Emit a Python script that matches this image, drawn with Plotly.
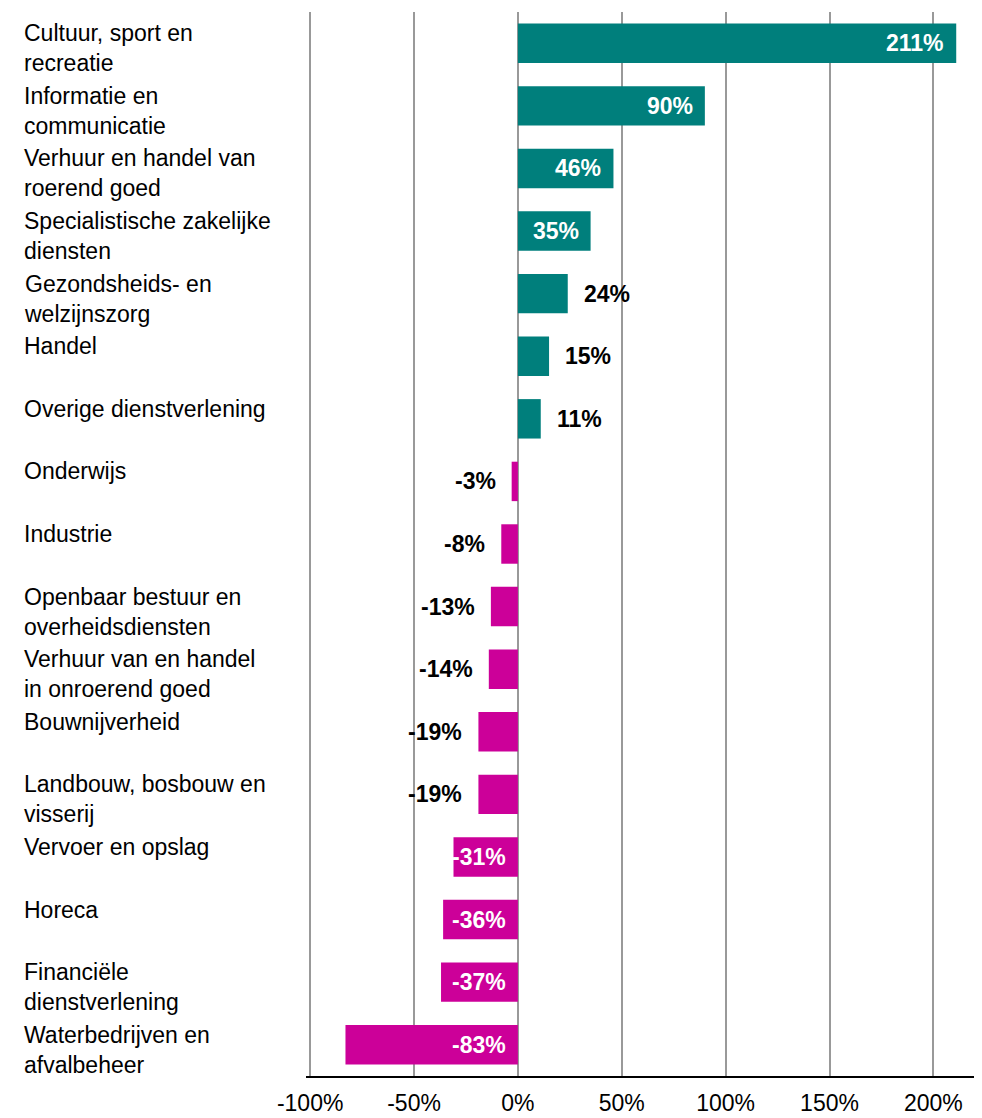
import plotly.graph_objs as go

# Sectors and change in percent
sectors = [
    "Cultuur, sport en<br>recreatie",
    "Informatie en<br>communicatie",
    "Verhuur en handel van<br>roerend goed",
    "Specialistische zakelijke<br>diensten",
    "Gezondsheids- en<br>welzijnszorg",
    "Handel",
    "Overige dienstverlening",
    "Onderwijs",
    "Industrie",
    "Openbaar bestuur en<br>overheidsdiensten",
    "Verhuur van en handel<br>in onroerend goed",
    "Bouwnijverheid",
    "Landbouw, bosbouw en<br>visserij",
    "Vervoer en opslag",
    "Horeca",
    "Financiële<br>dienstverlening",
    "Waterbedrijven en<br>afvalbeheer",
]
change = [211, 90, 46, 35, 24, 15, 11, -3, -8, -13, -14, -19, -19, -31, -36, -37, -83]
label_inside = [True, True, True, True, False, False, False, False, False,
                False, False, False, False, True, True, True, True]

tick_vals = [-100, -50, 0, 50, 100, 150, 200]
tick_text = ["-100%", "-50%", "0%", "50%", "100%", "150%", "200%"]

TEAL = "#007F7C"
MAGENTA = "#CC0099"
FONT = "Liberation Sans, Arial, Helvetica, sans-serif"

rows = list(range(len(sectors)))
colors = [TEAL if v >= 0 else MAGENTA for v in change]

fig = go.Figure(go.Bar(
    x=change,
    y=rows,
    orientation="h",
    width=0.63,
    marker=dict(color=colors, line=dict(width=0)),
    hoverinfo="skip",
))

# page body has an 8px margin, so the figure is shifted by that amount
W, H = 974, 1110
plot_left, plot_w = 298, 671

# category labels on the left, aligned to the top of each row
for i, name in enumerate(sectors):
    fig.add_annotation(
        x=(14 - plot_left) / plot_w, xref="paper", xanchor="left",
        y=i, yref="y", yanchor="top", yshift=25,
        text=name, showarrow=False, align="left",
        font=dict(family=FONT, size=23, color="#000000"),
    )

# value labels
for i, (v, inside) in enumerate(zip(change, label_inside)):
    if v >= 0:
        if inside:
            pos, anchor, shift, col = v, "right", -10, "white"
        else:
            pos, anchor, shift, col = v, "left", 14, "black"
    else:
        if inside:
            pos, anchor, shift, col = 0, "right", -10, "white"
        else:
            pos, anchor, shift, col = v, "right", -14, "black"
    fig.add_annotation(
        x=pos, y=i, xref="x", yref="y", xanchor=anchor, xshift=shift,
        text="<b>%d%%</b>" % v, showarrow=False,
        font=dict(family=FONT, size=23, color=col),
    )

fig.update_layout(
    width=W,
    height=H,
    margin=dict(l=plot_left, r=W - plot_left - plot_w, t=4, b=42),
    paper_bgcolor="white",
    plot_bgcolor="white",
    showlegend=False,
    font=dict(family=FONT, size=23, color="#000000"),
    xaxis=dict(
        range=[-102, 221],
        tickvals=tick_vals,
        ticktext=tick_text,
        showgrid=True,
        gridcolor="#999999",
        gridwidth=2,
        zeroline=False,
        showline=True,
        linecolor="#000000",
        linewidth=2,
        ticks="",
        ticklabelstandoff=5,
        automargin=False,
        tickfont=dict(family=FONT, size=23, color="#000000"),
    ),
    yaxis=dict(
        range=[len(sectors) - 0.5, -0.5],
        showticklabels=False,
        showgrid=False,
        zeroline=False,
        showline=False,
        automargin=False,
    ),
)

fig.write_html("out.html")
